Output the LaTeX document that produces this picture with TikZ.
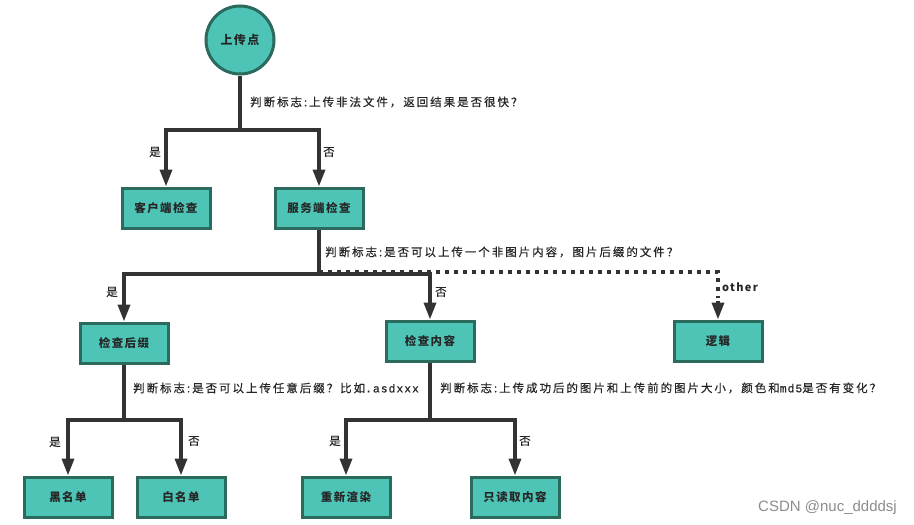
\documentclass[tikz,border=0pt]{standalone}
\usepackage{fontspec}
\usetikzlibrary{arrows.meta}
\newfontfamily\cjk[LetterSpace=12]{Noto Sans CJK SC}
\newfontfamily\cjkl[LetterSpace=17,FakeBold=0.5]{Noto Sans CJK SC}
\newfontfamily\mono[FakeBold=0.5,LetterSpace=8]{Liberation Mono}
\newfontfamily\wmfont{Liberation Sans}
\definecolor{tealfill}{HTML}{4DC4B5}
\definecolor{tealdraw}{HTML}{2A6B5E}
\definecolor{linec}{HTML}{333333}
\begin{document}
\begin{tikzpicture}[x=1pt,y=-1pt,
  box/.style={draw=tealdraw,fill=tealfill,line width=3pt,minimum width=88pt,minimum height=40pt,inner sep=0pt,font=\cjk\bfseries\fontsize{11.5}{12}\selectfont,text=black!85},
  circ/.style={circle,draw=tealdraw,fill=tealfill,line width=3pt,minimum size=68pt,inner sep=0pt,font=\cjk\bfseries\fontsize{12}{12}\selectfont,text=black!85},
  conn/.style={draw=linec,line width=3.5pt},
  arr/.style={conn,-{Triangle[length=17pt,width=12pt]}},
  dotl/.style={draw=linec,line width=3.5pt,dash pattern=on 4pt off 5pt},
  lbl/.style={font=\cjkl\fontsize{11.5}{12}\selectfont,text=black!85,inner sep=0pt,anchor=west},
]
\useasboundingbox (0,0) rectangle (914,525);
\node[circ] (top) at (240,40) {上传点};
\node[box] (cli) at (166,208) {客户端检查};
\node[box] (srv) at (319,208) {服务端检查};
\node[box] (suf) at (124,343) {检查后缀};
\node[box] (con) at (430,341) {检查内容};
\node[box] (log) at (718,341) {逻辑};
\node[box] (blk) at (68,497) {黑名单};
\node[box] (wht) at (181,497) {白名单};
\node[box] (rer) at (346,497) {重新渲染};
\node[box] (rd) at (515,497) {只读取内容};

\coordinate (b1) at (240,130);
\coordinate (b2) at (319,274);
\coordinate (b2d) at (319,272);
\coordinate (b3) at (124,420);
\coordinate (b4) at (430,420);
\coordinate (dend) at ([yshift=22pt]log.north);
\coordinate (astart) at ([yshift=19pt]log.north);

\draw[dotl] (b2d) -| (dend);
\draw[arr] (astart) -- (log.north);

\draw[conn] (top.south) -- (b1);
\draw[arr] (b1) -| (cli.north);
\draw[arr] (b1) -| (srv.north);
\draw[conn] (srv.south) -- (b2);
\draw[arr] (b2) -| (suf.north);
\draw[arr] (b2) -| (con.north);
\draw[conn] (suf.south) -- (b3);
\draw[arr] (b3) -| (blk.north);
\draw[arr] (b3) -| (wht.north);
\draw[conn] (con.south) -- (b4);
\draw[arr] (b4) -| (rer.north);
\draw[arr] (b4) -| (rd.north);

\node[lbl] (l1) at (250,102) {判断标志:上传非法文件，返回结果是否很快？};
\node[lbl] (l2) at (325,252) {判断标志:是否可以上传一个非图片内容，图片后缀的文件？};
\node[lbl] (l3) at (133,388) {判断标志:是否可以上传任意后缀？比如{\mono.asdxxx}};
\node[lbl] (l4) at (440,388) {判断标志:上传成功后的图片和上传前的图片大小，颜色和{\mono md5}是否有变化？};
\node[lbl] (y1) at (149,152) {是};
\node[lbl] (n1) at (323,152) {否};
\node[lbl] (y2) at (106,292) {是};
\node[lbl] (n2) at (435,292) {否};
\node[lbl,font=\cjk\bfseries\fontsize{11}{12}\selectfont] (ot) at (722,287) {other};
\node[lbl] (y3) at (49,442) {是};
\node[lbl] (n3) at (188,441) {否};
\node[lbl] (y4) at (329,441) {是};
\node[lbl] (n4) at (519,441) {否};
\node[font=\wmfont\fontsize{15}{15}\selectfont,text=black!45,anchor=west,inner sep=0pt] (wm) at (758,508) {CSDN @nuc\_ddddsj};
\end{tikzpicture}
\end{document}
